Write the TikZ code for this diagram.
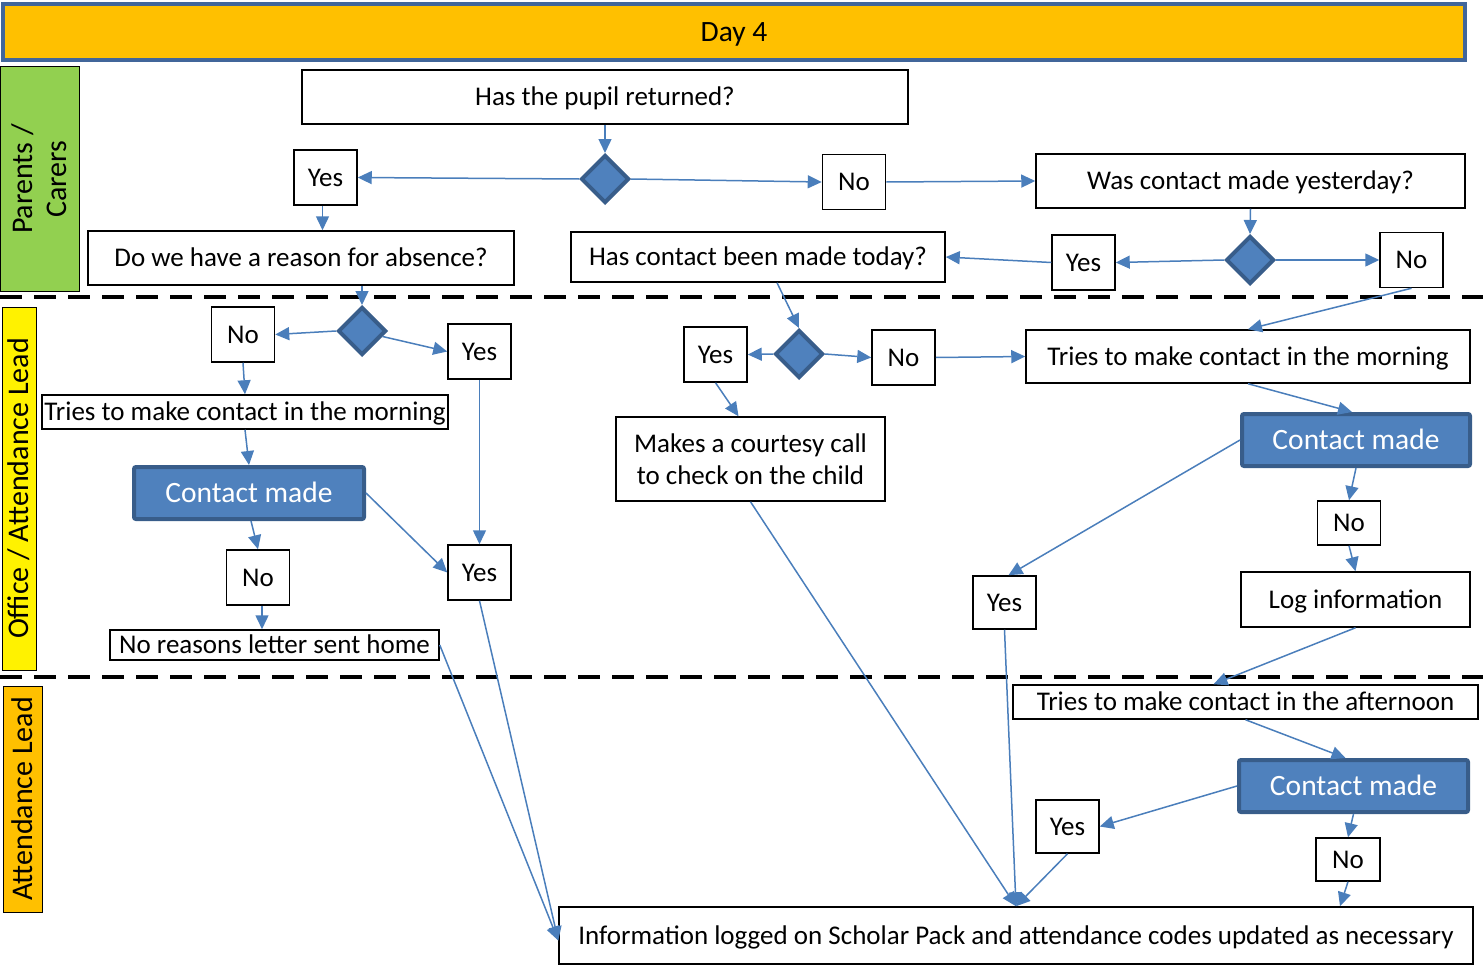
\documentclass[tikz,border=0pt]{standalone}
\usepackage{fontspec}
\setmainfont{Carlito}
\usetikzlibrary{shapes.geometric}
\usetikzlibrary{arrows.meta}
\definecolor{flowblue}{HTML}{4A7EBB}
\definecolor{diafill}{HTML}{4F81BD}
\definecolor{diaedge}{HTML}{385D8A}
\definecolor{daybar}{HTML}{FFC000}
\definecolor{dayedge}{HTML}{41669A}
\definecolor{parentlane}{HTML}{92D050}

\tikzset{
  boxline/.style={draw, rectangle, line width=1.5pt, fill=white, inner sep=2pt},
  qbox/.style={boxline, text height=21.6pt, text depth=4.2pt},
  ansbox/.style={qbox, minimum width=63, minimum height=55},
  decision/.style={diamond, fill=diafill, draw=diaedge, line width=4pt, minimum width=48, minimum height=48, inner sep=0pt},
  contact/.style={rectangle, rounded corners=2pt, fill=diafill, draw=diaedge, line width=4pt, text=white, minimum width=230, minimum height=52, font=\fontsize{29.5}{34}\selectfont, text height=23.6pt, text depth=4.6pt},
  lanebox/.style={draw, line width=1pt, rotate=90, align=center, inner sep=0pt, font=\fontsize{30}{34}\selectfont},
  lanedash/.style={line width=4pt, dash pattern=on 22pt off 12pt},
  flow/.style={-{Triangle[length=14pt,width=13pt]}, draw=flowblue, line width=1.5pt}
}

\begin{document}
\begin{tikzpicture}[x=1pt, y=-1pt, font=\fontsize{27}{32}\selectfont]
            \useasboundingbox (0,0) rectangle (1483,966);
            % header and lanes
            \node[draw=dayedge, fill=daybar, line width=4pt, minimum width=1462, minimum height=56, font=\fontsize{29.5}{34}\selectfont, text height=23.6pt, text depth=4.6pt] (day) at (734,32) {Day 4};
            \node[lanebox, fill=parentlane, minimum width=224, minimum height=79] (parents) at (39.5,179) {Parents /\\Carers};
            \node[lanebox, fill=yellow, minimum width=363, minimum height=34] (office) at (19,488.5) {Office / Attendance Lead};
            \node[lanebox, fill=daybar, minimum width=226, minimum height=39] (lead) at (22.5,799) {Attendance Lead};
            \draw[lanedash] (0,297) -- (1483,297);
            \draw[lanedash] (0,677) -- (1483,677);

            % parents / carers
            \node[qbox, minimum width=606, minimum height=54] (returned) at (605,97) {Has the pupil returned?};
            \node[decision] (d1) at (605,179) {};
            \node[ansbox] (yes1) at (325.5,177.5) {Yes};
            \node[ansbox] (no1) at (854,182) {No};
            \node[qbox, minimum width=429, minimum height=54] (yesterday) at (1250.5,181) {Was contact made yesterday?};
            \node[decision] (d2) at (1250,260) {};
            \node[ansbox] (yes2) at (1083.5,262.5) {Yes};
            \node[ansbox] (no2) at (1411.5,260) {No};
            \node[qbox, minimum width=374, minimum height=50] (today) at (758,257) {Has contact been made today?};
            \node[qbox, minimum width=426, minimum height=54] (reason) at (301,258) {Do we have a reason for absence?};

            % office / attendance lead
            \node[decision] (d3) at (362,331) {};
            \node[ansbox] (no3) at (243,334.5) {No};
            \node[ansbox] (yes3) at (479.5,351.5) {Yes};
            \node[qbox, minimum width=406, minimum height=34, inner sep=1pt] (morning1) at (245,412) {Tries to make contact in the morning};
            \node[contact, minimum width=230] (made1) at (249,493) {Contact made};
            \node[ansbox] (no4) at (258,577.5) {No};
            \node[ansbox] (yes4) at (479.5,572.5) {Yes};
            \node[qbox, minimum width=329, minimum height=30, inner sep=1pt] (letter) at (274.5,645) {No reasons letter sent home};
            \node[decision] (d4) at (799,354) {};
            \node[ansbox] (yes5) at (715.5,354.5) {Yes};
            \node[ansbox] (no5) at (903.5,357.5) {No};
            \node[qbox, minimum width=444, minimum height=53] (morning2) at (1248,356.5) {Tries to make contact in the morning};
            \node[boxline, align=center, minimum width=269, minimum height=84] (call) at (750.5,459) {Makes a courtesy call\\to check on the child};
            \node[contact, minimum width=228] (made2) at (1356,440) {Contact made};
            \node[ansbox, minimum height=44] (no6) at (1349,523) {No};
            \node[qbox, minimum width=229, minimum height=55] (loginfo) at (1355.5,599.5) {Log information};
            \node[ansbox, minimum height=53] (yes6) at (1004.5,602.5) {Yes};

            % attendance lead
            \node[qbox, minimum width=465, minimum height=34, inner sep=1pt] (afternoon) at (1245.5,702) {Tries to make contact in the afternoon};
            \node[contact, minimum width=229] (made3) at (1353.5,786) {Contact made};
            \node[ansbox, minimum height=53] (yes7) at (1067.5,826.5) {Yes};
            \node[ansbox, minimum width=64, minimum height=43] (no7) at (1348,859.5) {No};
            \node[qbox, minimum width=914, minimum height=57] (logged) at (1016,935.5) {Information logged on Scholar Pack and attendance codes updated as necessary};

            % flow
            \draw[flow] (returned.south) -- (d1.north);
            \draw[flow] (d1.west) -- (yes1.east);
            \draw[flow] (d1.east) -- (no1.west);
            \draw[flow] (no1.east) -- (yesterday.west);
            \draw[flow] (yesterday.south) -- (d2.north);
            \draw[flow] (d2.west) -- (yes2.east);
            \draw[flow] (d2.east) -- (no2.west);
            \draw[flow] (yes2.west) -- (today.east);
            \draw[flow] ([xshift=-3]yes1.south) -- ([xshift=-3]yes1.south |- reason.north);
            \draw[flow] (reason.south -| d3.north) -- (d3.north);
            \draw[flow] (d3.west) -- (no3.east);
            \draw[flow] (d3.-15) -- (yes3.west);
            \draw[flow] (no3.south) -- (morning1.north);
            \draw[flow] (morning1.south) -- (made1.north);
            \draw[flow] ([xshift=2]made1.south) -- (no4.north);
            \draw[flow] ([xshift=4]no4.south) -- ([xshift=4]no4.south |- letter.north);
            \draw[flow] (yes3.south) -- (yes4.north);
            \draw[flow] (made1.east) -- (yes4.west);
            \draw[flow] (letter.east) -- ([yshift=-5]logged.west);
            \draw[flow] (yes4.south) -- ([yshift=-5]logged.west);
            \draw[flow] ([xshift=19]today.south) -- (d4.north);
            \draw[flow] (d4.west) -- (yes5.east);
            \draw[flow] (d4.east) -- (no5.west);
            \draw[flow] (no5.east) -- (morning2.west);
            \draw[flow] (yes5.south) -- ([xshift=-12]call.north);
            \draw[flow] (no2.south) -- (morning2.north);
            \draw[flow] (morning2.south) -- ([xshift=-4]made2.north);
            \draw[flow] (made2.south) -- (no6.north);
            \draw[flow] (no6.south) -- (loginfo.north);
            \draw[flow] (made2.west) -- ([xshift=4]yes6.north);
            \draw[flow] (loginfo.south) -- ([xshift=-32]afternoon.north);
            \draw[flow] (afternoon.south) -- ([xshift=-8]made3.north);
            \draw[flow] (made3.west) -- (yes7.east);
            \draw[flow] (made3.south) -- (no7.north);
            \draw[flow] (no7.south) -- ([xshift=324]logged.north);
            \draw[flow] (call.south) -- (logged.north);
            \draw[flow] (yes6.south) -- (logged.north);
            \draw[flow] (yes7.south) -- (logged.north);
        \end{tikzpicture}
\end{document}
